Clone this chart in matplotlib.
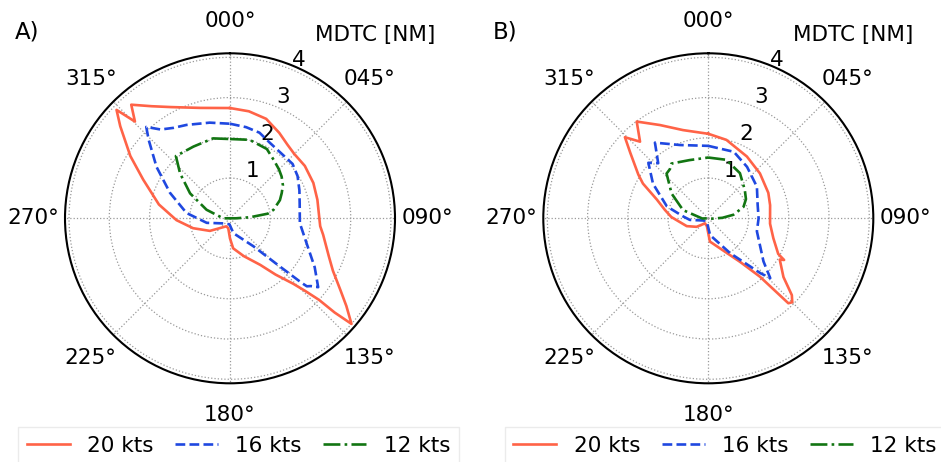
import numpy as np
import matplotlib
matplotlib.use("Agg")
import matplotlib.pyplot as plt

# ---- data: bearings (deg) and MDTC (NM) ----
# Panel A
a20_theta = [0, 10, 20, 30, 38, 45, 55, 67, 78, 90, 95, 100, 111, 117, 123, 127, 131, 132, 132.5, 134, 136, 141, 147, 160, 174, 180, 190, 205, 238, 255, 268, 281, 294, 302, 310, 313.7, 315.5, 319, 325, 332, 345, 360]
a20_r     = [2.74, 2.70, 2.63, 2.45, 2.32, 2.26, 2.27, 2.25, 2.22, 2.22, 2.25, 2.35, 2.63, 2.87, 3.27, 3.62, 4.00, 3.50, 3.00, 2.60, 2.26, 1.80, 1.38, 1.00, 0.75, 0.50, 0.25, 0.22, 0.59, 0.95, 1.33, 1.80, 2.36, 2.92, 3.56, 3.90, 3.37, 3.74, 3.40, 3.13, 2.84, 2.74]

a16_theta = [0, 10, 19, 28, 37, 49, 58, 68, 78, 94, 108, 120, 128, 130, 131.5, 132, 134, 140, 167, 185, 233, 259, 277, 293, 305, 314, 317.5, 322, 328, 335, 348, 360]
a16_r     = [2.35, 2.30, 2.25, 2.12, 2.06, 2.06, 1.98, 1.86, 1.77, 1.74, 2.00, 2.43, 2.78, 2.62, 2.55, 2.40, 1.73, 0.91, 0.38, 0.15, 0.21, 0.59, 1.09, 1.62, 2.23, 2.81, 3.08, 2.80, 2.65, 2.56, 2.43, 2.35]

a12_theta = [0, 14, 28, 37, 45, 51, 58, 64, 70, 79, 83, 87, 90, 180, 270, 290, 302, 312, 319, 333, 348, 360]
a12_r     = [1.97, 2.01, 1.95, 1.81, 1.72, 1.65, 1.55, 1.43, 1.32, 1.10, 0.95, 0.50, 0.15, 0.00, 0.17, 0.62, 1.17, 1.67, 2.05, 2.00, 2.03, 1.97]

# Panel B
b20_theta = [0, 13, 32, 49, 67, 78, 95, 107, 117, 118.8, 120, 128, 132.6, 135, 136.7, 138.5, 143.9, 176, 190, 213, 234, 250, 272, 281, 290, 298, 302, 310, 314.2, 318.3, 323.5, 332.6, 344, 360]
b20_r     = [2.10, 2.00, 1.81, 1.70, 1.62, 1.57, 1.54, 1.69, 1.95, 2.15, 2.05, 2.37, 2.82, 2.95, 2.90, 1.94, 1.34, 0.58, 0.20, 0.15, 0.36, 0.57, 0.92, 1.10, 1.36, 1.84, 2.05, 2.53, 2.89, 2.55, 2.99, 2.61, 2.28, 2.10]

b16_theta = [0, 21, 37, 57, 75, 90, 105, 128, 134, 136.5, 148, 174, 200, 245, 265, 274, 286, 302, 312.8, 317.7, 324.8, 339, 360]
b16_r     = [1.80, 1.77, 1.60, 1.44, 1.27, 1.25, 1.25, 1.74, 2.14, 1.88, 1.02, 0.42, 0.10, 0.13, 0.46, 0.62, 1.07, 1.62, 2.03, 1.85, 2.30, 1.95, 1.80]

b12_theta = [0, 17, 35, 52, 63, 72, 82, 88, 95, 180, 268, 288, 304, 317, 322, 326, 342, 360]
b12_r     = [1.51, 1.52, 1.37, 1.15, 1.05, 0.92, 0.63, 0.35, 0.10, 0.00, 0.15, 0.66, 1.10, 1.52, 1.55, 1.64, 1.52, 1.51]

series_labels = ["20 kts", "16 kts", "12 kts"]
theta_ticks = [0, 45, 90, 135, 180, 225, 270, 315]
theta_labels = ["000°", "045°", "090°", "135°", "180°", "225°", "270°", "315°"]
r_ticks = [1, 2, 3, 4]
r_labels = ["1", "2", "3", "4"]
panel_names = ["A)", "B)"]

colors = ["#ff6347", "#1f48e0", "#127512"]
styles = ["-", "--", "-."]

FS = 15.5
fig = plt.figure(figsize=(9.41, 4.62), dpi=100)

panels = [
    [(a20_theta, a20_r), (a16_theta, a16_r), (a12_theta, a12_r)],
    [(b20_theta, b20_r), (b16_theta, b16_r), (b12_theta, b12_r)],
]
centers_x = [230, 708.3]
legend_cx = [238.5, 725]
W = 330 / 941
H = 330 / 462
B = (462 - 383.3) / 462

for i, data in enumerate(panels):
    ax = fig.add_axes([(centers_x[i] - 165) / 941, B, W, H], projection="polar")
    ax.set_theta_zero_location("N")
    ax.set_theta_direction(-1)
    handles = []
    for (th, r), c, ls, lab in zip(data, colors, styles, series_labels):
        h, = ax.plot(np.deg2rad(th), r, color=c, ls=ls, lw=1.9, label=lab)
        handles.append(h)
    ax.set_rlim(0, 4.1)
    ax.set_thetagrids(theta_ticks, theta_labels, fontsize=FS)
    ax.set_rgrids(r_ticks, r_labels, angle=22.5, fontsize=FS)
    ax.tick_params(axis="x", pad=12.5)
    ax.grid(True, color="#999999", ls=":", lw=0.9)
    ax.spines["polar"].set_linewidth(1.5)
    fig.text((centers_x[i] - 203) / 941, 1 - 32 / 462, panel_names[i],
             fontsize=FS + 1, ha="center", va="center")
    fig.text((centers_x[i] + 145) / 941, 1 - 35 / 462, "MDTC [NM]",
             fontsize=FS, ha="center", va="center")
    leg = fig.legend(handles=handles, loc="upper center", ncol=3, fontsize=FS,
                     bbox_to_anchor=(legend_cx[i] / 941, 35 / 462),
                     borderaxespad=0, columnspacing=1.0,
                     frameon=True, fancybox=False)
    leg.get_frame().set_edgecolor("#e6e6e6")

fig.savefig("out.png", dpi=100)
